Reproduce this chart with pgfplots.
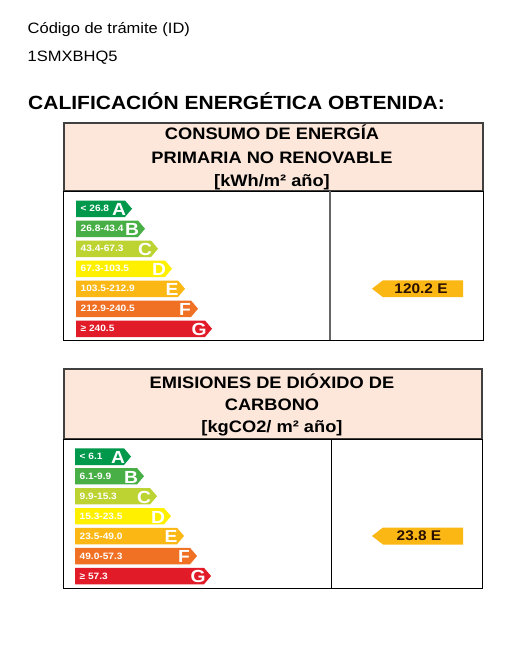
\documentclass[border=0pt]{standalone}
\usepackage{pgfplots}
\pgfplotsset{compat=1.18}
\usepackage{fontspec}
\setmainfont{Liberation Sans}[FakeStretch=1.1]
\definecolor{cA}{RGB}{0,152,75}
\definecolor{cB}{RGB}{72,175,70}
\definecolor{cC}{RGB}{188,211,50}
\definecolor{cD}{RGB}{255,240,0}
\definecolor{cE}{RGB}{251,184,20}
\definecolor{cF}{RGB}{240,112,36}
\definecolor{cG}{RGB}{226,27,40}
\definecolor{peach}{RGB}{252,231,218}
\definecolor{rtxt}{RGB}{40,15,0}
\newcommand{\fs}[1]{\fontsize{#1}{#1}\selectfont}
\begin{document}
\begin{tikzpicture}
\begin{axis}[width=527pt,height=647pt,scale only axis,
  xmin=0,xmax=527,ymin=0,ymax=647,y dir=reverse,
  axis lines=none,clip=false]
\fill[white] (axis cs:0,0) rectangle (axis cs:527,647);
% header texts
\node[anchor=base west,inner sep=0pt,font=\fs{15}] at (axis cs:27.5,33.5) {Código de trámite (ID)};
\node[anchor=base west,inner sep=0pt,font=\fs{15}] at (axis cs:27.5,62) {1SMXBHQ5};
\node[anchor=base west,inner sep=0pt,font=\fs{19.1}\bfseries] at (axis cs:28,110) {CALIFICACIÓN ENERGÉTICA OBTENIDA:};
% box 1
\draw[fill=peach,draw=black!75,line width=1.2pt] (axis cs:64,123) rectangle (axis cs:483,191);
\draw[black,line width=1pt] (axis cs:63,191) rectangle (axis cs:483,340);
\draw[black!60,line width=1.2pt] (axis cs:330,191) -- (axis cs:330,340);
\node[anchor=base,font=\fs{16.6}\bfseries] at (axis cs:272,140) {CONSUMO DE ENERGÍA};
\node[anchor=base,font=\fs{16.6}\bfseries] at (axis cs:272,163.3) {PRIMARIA NO RENOVABLE};
\node[anchor=base,font=\fs{16.6}\bfseries] at (axis cs:272,186) {[kWh/m² año]};
% box 2
\draw[fill=peach,draw=black!75,line width=1.2pt] (axis cs:64,369) rectangle (axis cs:482,439);
\draw[black,line width=1pt] (axis cs:63,439) rectangle (axis cs:482,588);
\draw[black,line width=1pt] (axis cs:331,439) -- (axis cs:331,588);
\node[anchor=base,font=\fs{16.6}\bfseries] at (axis cs:272,388.3) {EMISIONES DE DIÓXIDO DE};
\node[anchor=base,font=\fs{16.6}\bfseries] at (axis cs:272,410.3) {CARBONO};
\node[anchor=base,font=\fs{16.6}\bfseries] at (axis cs:272,432.5) {[kgCO2/ m² año]};
% scale bars box 1
\addplot[fill=cA,draw=none] coordinates {(76,200.5) (125,200.5) (132,208.75) (125,217) (76,217)};
\addplot[fill=cB,draw=none] coordinates {(76,220.5) (138,220.5) (145,228.75) (138,237) (76,237)};
\addplot[fill=cC,draw=none] coordinates {(76,240.5) (151,240.5) (158,248.75) (151,257) (76,257)};
\addplot[fill=cD,draw=none] coordinates {(76,260.5) (165,260.5) (172,268.75) (165,277) (76,277)};
\addplot[fill=cE,draw=none] coordinates {(76,280.5) (178,280.5) (185,288.75) (178,297) (76,297)};
\addplot[fill=cF,draw=none] coordinates {(76,300.5) (191,300.5) (198,308.75) (191,317) (76,317)};
\addplot[fill=cG,draw=none] coordinates {(76,320.5) (205,320.5) (212,328.75) (205,337) (76,337)};
% scale bars box 2
\addplot[fill=cA,draw=none] coordinates {(75,448.3) (124,448.3) (131,456.6) (124,465) (75,465)};
\addplot[fill=cB,draw=none] coordinates {(75,468) (137,468) (144,476.2) (137,484.4) (75,484.4)};
\addplot[fill=cC,draw=none] coordinates {(75,488) (150,488) (157,496.2) (150,504.4) (75,504.4)};
\addplot[fill=cD,draw=none] coordinates {(75,508) (164,508) (171,516.2) (164,524.4) (75,524.4)};
\addplot[fill=cE,draw=none] coordinates {(75,527.8) (177,527.8) (184,536) (177,544.3) (75,544.3)};
\addplot[fill=cF,draw=none] coordinates {(75,547.8) (190,547.8) (197,556) (190,564.3) (75,564.3)};
\addplot[fill=cG,draw=none] coordinates {(75,567.8) (204,567.8) (211,576) (204,584.3) (75,584.3)};
% rating arrows
\addplot[fill=cE,draw=none] coordinates {(372,288.7) (383,280.3) (463,280.3) (463,297.2) (383,297.2)};
\addplot[fill=cE,draw=none] coordinates {(372,536) (383,527.5) (463,527.5) (463,544.5) (383,544.5)};
\node[font=\fs{14}\bfseries,text=rtxt] at (axis cs:421,288.7) {120.2 E};
\node[font=\fs{14}\bfseries,text=rtxt] at (axis cs:419,536) {23.8 E};
% labels
\begin{scope}[every node/.style={anchor=west,text=white,inner sep=0pt,font=\fs{9.2}\bfseries}]
\node at (axis cs:80.5,208.75) {< 26.8};
\node at (axis cs:80.5,228.75) {26.8-43.4};
\node at (axis cs:80.5,248.75) {43.4-67.3};
\node at (axis cs:80.5,268.75) {67.3-103.5};
\node at (axis cs:80.5,288.75) {103.5-212.9};
\node at (axis cs:80.5,308.75) {212.9-240.5};
\node at (axis cs:80.5,328.75) {≥ 240.5};
\node at (axis cs:79.5,456.6) {< 6.1};
\node at (axis cs:79.5,476.2) {6.1-9.9};
\node at (axis cs:79.5,496.2) {9.9-15.3};
\node at (axis cs:79.5,516.2) {15.3-23.5};
\node at (axis cs:79.5,536) {23.5-49.0};
\node at (axis cs:79.5,556) {49.0-57.3};
\node at (axis cs:79.5,576) {≥ 57.3};
\end{scope}
\begin{scope}[every node/.style={anchor=center,text=white,inner sep=0pt,font=\fs{17.5}\bfseries}]
\node at (axis cs:119,209.5) {A};
\node at (axis cs:132,229.5) {B};
\node at (axis cs:145,249.5) {C};
\node at (axis cs:159,269.5) {D};
\node at (axis cs:172,289.5) {E};
\node at (axis cs:185,309.5) {F};
\node at (axis cs:199,329.5) {G};
\node at (axis cs:118,457.3) {A};
\node at (axis cs:131,477) {B};
\node at (axis cs:144,497) {C};
\node at (axis cs:158,517) {D};
\node at (axis cs:171,536.8) {E};
\node at (axis cs:184,556.8) {F};
\node at (axis cs:198,576.8) {G};
\end{scope}
\end{axis}
\end{tikzpicture}
\end{document}
